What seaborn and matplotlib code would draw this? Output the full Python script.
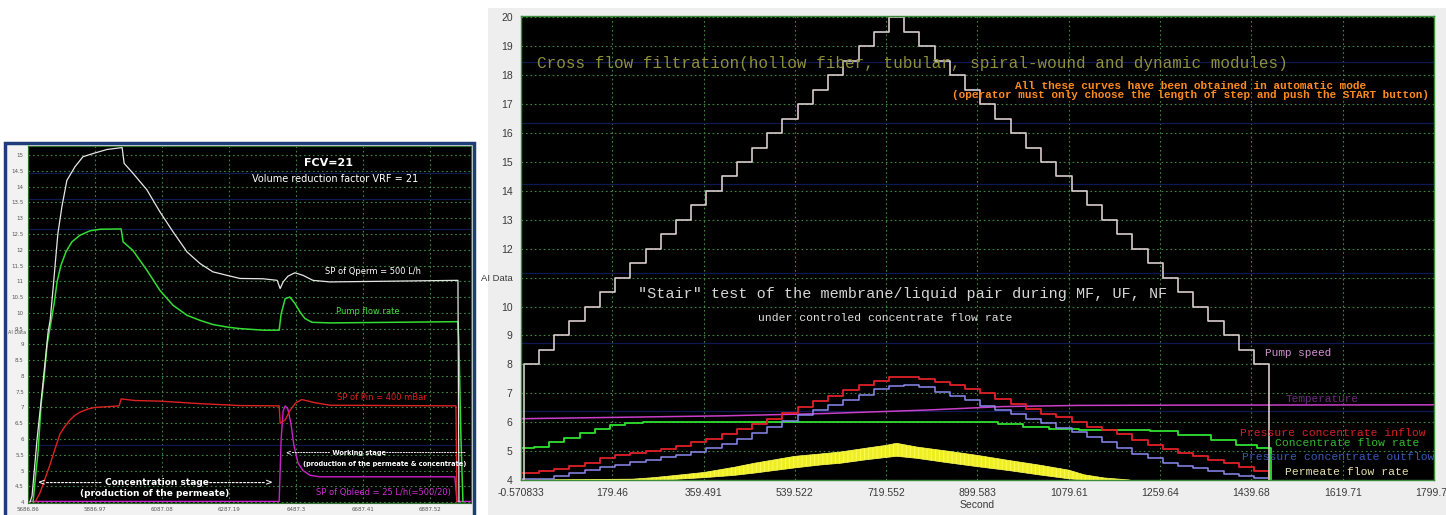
import numpy as np
import seaborn as sns
import matplotlib
matplotlib.use("Agg")
import matplotlib.pyplot as plt
from matplotlib.patches import Rectangle

sns.set_theme(style="dark")
plt.rcParams["font.family"] = ["DejaVu Sans"]
plt.rcParams["hatch.linewidth"] = 0.6

# ---------------- left chart: concentration run ----------------
left_xticks = [5686.86, 5886.97, 6087.08, 6287.19, 6487.3, 6687.41, 6887.52]
left_xlabels = ["5686.86", "5886.97", "6087.08", "6287.19", "6487.3", "6687.41", "6887.52"]
left_yticks = np.arange(4, 15.01, 0.5)

# SP of Qperm (white)
qperm_x = [5693, 5699, 5714, 5729, 5747, 5753, 5762, 5776, 5788, 5803, 5827, 5851,
           5887, 5923, 5968, 5974, 6000, 6042, 6081, 6120, 6162, 6201, 6239, 6281,
           6320, 6389, 6431, 6440, 6449, 6463, 6484, 6508, 6538, 6589, 6971, 6974]
qperm_y = [4.0, 4.2, 6.0, 7.5, 9.4, 9.76, 10.8, 12.5, 13.36, 14.2, 14.63, 14.95,
           15.07, 15.18, 15.24, 14.74, 14.43, 13.9, 13.2, 12.57, 11.93, 11.56, 11.3, 11.19,
           11.09, 11.08, 11.03, 10.77, 10.98, 11.16, 11.27, 11.19, 11.03, 10.98, 11.03, 4.0]

# pump flow rate (green)
pump_x = [5702, 5711, 5717, 5726, 5735, 5744, 5753, 5765, 5774, 5785, 5800, 5818,
          5842, 5872, 5902, 5965, 5971, 6000, 6042, 6081, 6120, 6162, 6201, 6239,
          6281, 6320, 6389, 6437, 6443, 6455, 6469, 6484, 6499, 6514, 6535, 6589,
          6971, 6974, 6980, 6986]
pump_y = [4.0, 5.0, 5.6, 7.1, 7.95, 9.0, 9.55, 10.3, 11.0, 11.5, 11.93, 12.25,
          12.46, 12.6, 12.65, 12.66, 12.25, 11.98, 11.35, 10.71, 10.24, 9.92, 9.76, 9.63,
          9.55, 9.5, 9.45, 9.45, 9.97, 10.45, 10.5, 10.3, 10.03, 9.82, 9.7, 9.68,
          9.72, 9.0, 6.0, 4.0]

# SP of Pin (red)
pin_x = [5708, 5723, 5738, 5753, 5768, 5782, 5797, 5812, 5827, 5842, 5866, 5887,
         5932, 5959, 5965, 6006, 6081, 6201, 6320, 6437, 6440, 6455, 6469, 6487,
         6505, 6544, 6589, 6965, 6968]
pin_y = [4.0, 4.3, 4.75, 5.2, 5.7, 6.15, 6.4, 6.6, 6.75, 6.85, 6.95, 7.0,
         7.03, 7.05, 7.27, 7.22, 7.2, 7.12, 7.06, 7.05, 6.5, 6.6, 6.9, 7.15,
         7.25, 7.15, 7.07, 7.05, 4.0]

# SP of Qbleed (magenta)
bleed_x = [5687, 6437, 6443, 6449, 6455, 6463, 6472, 6481, 6493, 6508, 6529, 6559,
           6962, 6968, 7010]
bleed_y = [4.02, 4.02, 6.0, 6.9, 7.05, 6.95, 6.5, 5.8, 5.25, 5.0, 4.85, 4.8,
           4.8, 4.02, 4.02]

# ---------------- right chart: stair test ----------------
right_xticks = [-0.570833, 179.46, 359.491, 539.522, 719.552, 899.583, 1079.61,
                1259.64, 1439.68, 1619.71, 1799.74]
right_xlabels = ["-0.570833", "179.46", "359.491", "539.522", "719.552", "899.583",
                 "1079.61", "1259.64", "1439.68", "1619.71", "1799.74"]
right_yticks = list(range(4, 21))
right_ylabels = [str(v) if v != 11 else "AI Data" for v in right_yticks]

# pump speed stair levels (30 s steps)
speed_levels = [8.0, 8.5, 9.0, 9.5, 10.0, 10.5, 11.0, 11.5, 12.0, 12.5, 13.0, 13.5,
                14.0, 14.5, 15.0, 15.5, 16.0, 16.5, 17.0, 17.5, 18.0, 18.5, 19.0, 19.5,
                20.0,
                19.5, 19.0, 18.5, 18.0, 17.5, 17.0, 16.5, 16.0, 15.5, 15.0, 14.5, 14.0,
                13.5, 13.0, 12.5, 12.0, 11.5, 11.0, 10.5, 10.0, 9.5, 9.0, 8.5, 8.0]
speed_t = np.r_[-0.57, np.arange(5, 1476, 30)]
speed_v = [4.0] + speed_levels + [4.0]

# pressure concentrate inflow (red) and outflow (blue), one value per step
inflow = [4.25, 4.30, 4.38, 4.48, 4.60, 4.75, 4.85, 4.93, 5.00, 5.08, 5.18, 5.30,
          5.42, 5.58, 5.75, 5.93, 6.12, 6.32, 6.52, 6.72, 6.92, 7.10, 7.28, 7.42,
          7.55, 7.58, 7.50, 7.40, 7.28, 7.15, 7.00, 6.80, 6.62, 6.45, 6.30, 6.18,
          6.02, 5.85, 5.72, 5.60, 5.40, 5.22, 5.08, 4.95, 4.82, 4.70, 4.58, 4.46, 4.32]
outflow = [4.02, 4.05, 4.15, 4.25, 4.35, 4.45, 4.53, 4.62, 4.70, 4.78, 4.88, 4.98,
           5.10, 5.25, 5.42, 5.62, 5.82, 6.05, 6.25, 6.42, 6.60, 6.77, 6.95, 7.15,
           7.25, 7.28, 7.22, 7.05, 6.92, 6.75, 6.55, 6.42, 6.30, 6.12, 5.97, 5.80,
           5.67, 5.50, 5.30, 5.10, 4.90, 4.75, 4.60, 4.48, 4.40, 4.32, 4.22, 4.13, 4.07]
press_t = np.r_[-0.57, np.arange(35, 1476, 30)]

# concentrate flow rate (green)
conc_t = [-0.57, 25, 55, 85, 115, 145, 175, 205, 240, 940, 990, 1040, 1100, 1240,
          1295, 1360, 1410, 1450, 1478]
conc_v = [5.1, 5.15, 5.3, 5.45, 5.62, 5.77, 5.9, 5.97, 6.0, 5.95, 5.85, 5.78, 5.73,
          5.68, 5.55, 5.4, 5.22, 5.1, 4.0]

# temperature (magenta)
temp_t = [-0.57, 200, 400, 600, 800, 950, 1100, 1300, 1799.74]
temp_v = [6.12, 6.17, 6.22, 6.3, 6.42, 6.54, 6.58, 6.59, 6.6]

# permeate flow rate (yellow, noisy band: low / high envelope)
perm_t = [-0.57, 220, 260, 300, 360, 420, 460, 500, 540, 590, 630, 680, 720, 740,
          780, 840, 900, 960, 1020, 1080, 1110, 1150, 1200]
perm_lo = [4.0, 4.0, 4.0, 4.02, 4.08, 4.16, 4.24, 4.33, 4.42, 4.52, 4.58, 4.7, 4.78,
           4.82, 4.75, 4.6, 4.46, 4.33, 4.18, 4.04, 4.0, 4.0, 4.0]
perm_hi = [4.0, 4.03, 4.08, 4.15, 4.26, 4.44, 4.58, 4.7, 4.82, 4.9, 4.97, 5.1, 5.2,
           5.27, 5.14, 5.0, 4.85, 4.68, 4.52, 4.34, 4.18, 4.07, 4.0]

W, H = 1446, 515
fig = plt.figure(figsize=(W / 100, H / 100), dpi=100)
fig.patch.set_facecolor("white")

# panel backgrounds (behind the axes)
fig.add_artist(Rectangle((5 / W, -0.01), 469 / W, 0.7323, transform=fig.transFigure,
                         facecolor="#f2f2f2", edgecolor="#1e3c78", lw=2.5, zorder=-10))
fig.add_artist(Rectangle((488 / W, 0), 1 - 488 / W, (H - 8) / H, transform=fig.transFigure,
                         facecolor="#eeeeee", edgecolor="none", zorder=-10))

grid_kw = dict(color="#3d8a3d", linestyle=(0, (1.5, 2.5)), linewidth=0.8)
navy = dict(color="#0f1850", lw=0.9, zorder=1)

# ---------------- left axes ----------------
ax1 = fig.add_axes([28 / W, 1 - 503 / H, 443 / W, 357 / H])
ax1.set_facecolor("black")
for y in [14.42, 13.62, 12.65, 5.8]:
    ax1.axhline(y, **navy)
ax1.set_xticks(left_xticks)
ax1.set_xticklabels(left_xlabels)
ax1.set_yticks(left_yticks)
ax1.set_yticklabels([f"{v:g}" for v in left_yticks])
ax1.grid(True, **grid_kw)
ax1.set_axisbelow(True)

line_kw = dict(estimator=None, sort=False, legend=False, ax=ax1)
sns.lineplot(x=bleed_x, y=bleed_y, color="#cc22cc", lw=1.0, **line_kw)
sns.lineplot(x=pin_x, y=pin_y, color="#dd2222", lw=1.0, **line_kw)
sns.lineplot(x=pump_x, y=pump_y, color="#33dd33", lw=1.1, **line_kw)
sns.lineplot(x=qperm_x, y=qperm_y, color="#e6e6e6", lw=0.9, **line_kw)

ax1.set_xlim(5686.86, 7010)
ax1.set_ylim(3.97, 15.29)
ax1.tick_params(axis="both", labelsize=4, colors="#555555", length=2, width=0.5, pad=1)
ax1.set_xlabel("")
ax1.set_ylabel("")
for s in ax1.spines.values():
    s.set_color("#2e6e2e")
    s.set_linewidth(0.8)
fig.text(8 / W, 1 - 333 / H, "AI Data", fontsize=3.5, color="#555555", va="center")

wt = dict(color="white", ha="center", va="center", zorder=5)
ax1.text(6583, 14.75, "FCV=21", fontsize=8, fontweight="bold", **wt)
ax1.text(6604, 14.24, "Volume reduction factor VRF = 21", fontsize=7, **wt)
ax1.text(6717, 11.3, "SP of Qperm = 500 L/h", fontsize=6, **wt)
ax1.text(6702, 10.05, "Pump flow rate", fontsize=6, color="#44dd44", ha="center", va="center")
ax1.text(6744, 7.32, "SP of Pin = 400 mBar", fontsize=6, color="#e02020", ha="center", va="center")
ax1.text(6726, 5.54, "<" + "-" * 14 + " Working stage" + "-" * 29, fontsize=4.8,
         fontweight="bold", **wt)
ax1.text(6753, 5.2, "(production of the permeate & concentrate)", fontsize=4.8,
         fontweight="bold", **wt)
ax1.text(6747, 4.3, "SP of Qbleed = 25 L/h(=500/20)", fontsize=6, color="#d030d0",
         ha="center", va="center")
ax1.text(6066, 4.62, "<" + "-" * 15 + " Concentration stage" + "-" * 15 + ">", fontsize=6.5,
         fontweight="bold", **wt)
ax1.text(6066, 4.27, "(production of the permeate)", fontsize=6.5, fontweight="bold", **wt)

# ---------------- right axes ----------------
ax2 = fig.add_axes([521 / W, 1 - 480 / H, 913 / W, 464 / H])
ax2.set_facecolor("black")
for y in [18.45, 16.35, 14.25, 11.17, 8.75, 6.38]:
    ax2.axhline(y, **navy)
ax2.set_xticks(right_xticks)
ax2.set_xticklabels(right_xlabels)
ax2.set_yticks(right_yticks)
ax2.set_yticklabels(right_ylabels)
ax2.grid(True, **grid_kw)
ax2.set_axisbelow(True)

step_kw = dict(estimator=None, sort=False, legend=False, ax=ax2, drawstyle="steps-post")
ax2.fill_between(perm_t, perm_lo, perm_hi, facecolor="#eeee22", edgecolor="#fdfd60",
                 hatch="||||", lw=0.5, zorder=2)
sns.lineplot(x=temp_t, y=temp_v, color="#c93fc9", lw=1.1, estimator=None, sort=False,
             legend=False, ax=ax2)
sns.lineplot(x=conc_t, y=conc_v, color="#2ee02e", lw=1.3, **step_kw)
sns.lineplot(x=press_t, y=outflow + [4.0], color="#8a8af0", lw=1.1, **step_kw)
sns.lineplot(x=press_t, y=inflow + [4.0], color="#e0202a", lw=1.3, **step_kw)
sns.lineplot(x=speed_t, y=speed_v, color="#d9cccc", lw=1.2, **step_kw)

ax2.set_xlim(-0.570833, 1799.74)
ax2.set_ylim(4, 20.05)
ax2.tick_params(axis="both", labelsize=7.5, colors="#3a3a3a", length=4, width=0.7, pad=2)
for lab in ax2.get_xticklabels() + ax2.get_yticklabels():
    lab.set_fontfamily("Liberation Sans")
ax2.get_yticklabels()[7].set_fontsize(6.8)
ax2.set_xlabel("Second", fontsize=7.5, color="#3a3a3a", family="Liberation Sans", labelpad=1)
ax2.set_ylabel("")
for s in ax2.spines.values():
    s.set_color("#3c8c3c")
    s.set_linewidth(1.0)

mono = dict(family="Liberation Mono", va="center", zorder=6)
ax2.text(31, 18.41, "Cross flow filtration(hollow fiber, tubular, spiral-wound and dynamic modules)",
         fontsize=11.5, color="#8f8f3c", ha="left", **mono)
ax2.text(1320, 17.64, "All these curves have been obtained in automatic mode",
         fontsize=8, fontweight="bold", color="#ff8a1e", ha="center", **mono)
ax2.text(1320, 17.33, "(operator must only choose the length of step and push the START button)",
         fontsize=7.9, fontweight="bold", color="#ff8a1e", ha="center", **mono)
ax2.text(230, 10.45, '"Stair" test of the membrane/liquid pair during MF, UF, NF',
         fontsize=10.9, color="#d6d6d6", ha="left", **mono)
ax2.text(467, 9.59, "under controled concentrate flow rate", fontsize=8.2, color="#e0e0e0",
         ha="left", **mono)
ax2.text(1466, 8.38, "Pump speed", fontsize=8, color="#d690d6", ha="left", **mono)
ax2.text(1579, 6.79, "Temperature", fontsize=8, color="#6e2a80", ha="center", **mono)
ax2.text(1417, 5.62, "Pressure concentrate inflow", fontsize=8.2, color="#d82020", ha="left", **mono)
ax2.text(1486, 5.28, "Concentrate flow rate", fontsize=8.2, color="#33bb33", ha="left", **mono)
ax2.text(1421, 4.79, "Pressure concentrate outflow", fontsize=8.2, color="#3858b8", ha="left", **mono)
ax2.text(1506, 4.28, "Permeate flow rate", fontsize=8.2, color="#e8e0a8", ha="left", **mono)

fig.savefig("out.png", dpi=100)
